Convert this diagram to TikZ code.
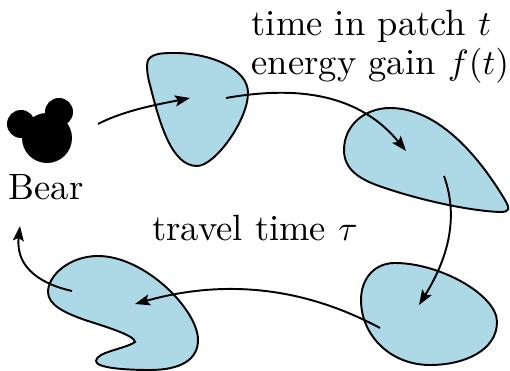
\documentclass[tikz,border=0pt]{standalone}
\usepackage{xcolor}
\usetikzlibrary{arrows.meta}
\definecolor{patchblue}{RGB}{173,216,230}
\begin{document}
\begin{tikzpicture}[x=.01cm,y=-.01cm, every node/.style={font=\fontsize{10.4}{11.2}\selectfont,align=left},
  patch/.style={draw,fill=patchblue,line width=.55pt},
  move/.style={-{Stealth[length=1.5mm,width=1.1mm,inset=.3mm]},line width=.55pt}]
\useasboundingbox (0,0) rectangle (510,371);
\draw[patch] (147,65) .. controls (147,52) and (165,53) .. (178,53) .. controls (210,54) and (248,68) .. (248,93) .. controls (248,120) and (215,166) .. (197,166) .. controls (172,166) and (160,125) .. (150,85) .. controls (148,78) and (147,72) .. (147,65) -- cycle;
\draw[patch] (344,150) .. controls (344,125) and (365,108) .. (390,108) .. controls (435,108) and (475,150) .. (505,200) .. controls (510,209) and (510,212) .. (500,212) .. controls (470,211) and (420,200) .. (385,188) .. controls (360,180) and (344,170) .. (344,150) -- cycle;
\draw[patch] (361,300) .. controls (361,278) and (375,263) .. (395,263) .. controls (440,263) and (497,295) .. (497,322) .. controls (497,350) and (465,365) .. (430,365) .. controls (390,365) and (361,335) .. (361,300) -- cycle;
\draw[patch] (48,292) .. controls (48,275) and (70,256) .. (98,256) .. controls (145,256) and (198,310) .. (198,340) .. controls (198,360) and (180,370) .. (150,370) .. controls (125,370) and (96,368) .. (96,361) .. controls (96,352) and (125,349) .. (135,342) .. controls (135,335) and (100,325) .. (85,320) .. controls (65,313) and (48,305) .. (48,292) -- cycle;
% bear
\fill (47,138) circle (25);
\fill (21,124) circle (14);
\fill (59,112) circle (14);
\node (bear) at (46,187) {Bear};
\node[anchor=west,inner sep=0pt] (gain) at (251,47) {time in patch $t$\\energy gain $f(t)$};
\node (travel) at (255,228) {travel time $\tau$};
\coordinate (s0) at (98,124);\coordinate (e1) at (190,98);
\coordinate (s1) at (226,98);\coordinate (e2) at (406,151);
\coordinate (s2) at (444,176);\coordinate (e3) at (419,305);
\coordinate (s3) at (380,328);\coordinate (e4) at (135,304);
\coordinate (s4) at (72,291);\coordinate (e5) at (20,226);
\draw[move] (s0) .. controls (125,110) and (160,104) .. (e1);
\draw[move] (s1) .. controls (300,85) and (360,95) .. (e2);
\draw[move] (s2) .. controls (458,215) and (450,255) .. (e3);
\draw[move] (s3) .. controls (300,285) and (220,280) .. (e4);
\draw[move] (s4) .. controls (45,285) and (15,270) .. (e5);
\end{tikzpicture}
\end{document}
